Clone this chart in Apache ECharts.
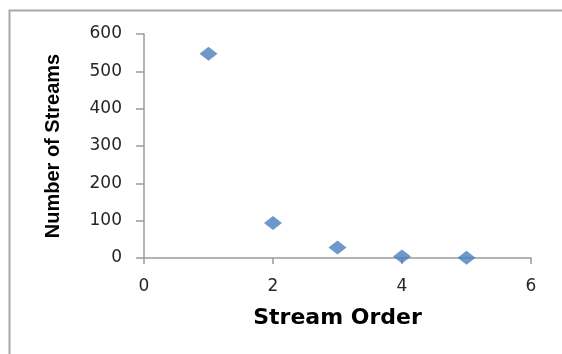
<!DOCTYPE html>
<html>
<head>
<meta charset="utf-8">
<script src="https://cdn.jsdelivr.net/npm/echarts@6/dist/echarts.min.js"></script>
<style>
html,body{margin:0;padding:0;background:#fff;}
#chart{width:562px;height:354px;}
</style>
</head>
<body>
<div id="chart"></div>
<script>
var streamOrder = [1, 2, 3, 4, 5];
var numberOfStreams = [547, 94, 28, 4, 1];
var xTicks = [0, 2, 4, 6];
var yTicks = [0, 100, 200, 300, 400, 500, 600];

var points = streamOrder.map(function (x, i) { return [x, numberOfStreams[i]]; });

var chart = echarts.init(document.getElementById('chart'), null, {renderer: 'canvas'});
var axisGray = '#9a9a9a';
chart.setOption({
  animation: false,
  backgroundColor: '#ffffff',
  graphic: [{
    type: 'rect',
    shape: {x: 9.5, y: 10.5, width: 700, height: 500},
    style: {fill: 'none', stroke: '#a8a8a8', lineWidth: 2},
    silent: true,
    z: -1
  }],
  grid: {left: 144, right: 31, top: 34, bottom: 96},
  xAxis: {
    type: 'value',
    min: xTicks[0],
    max: xTicks[xTicks.length - 1],
    interval: 2,
    name: 'Stream Order',
    nameLocation: 'middle',
    nameGap: 49,
    nameTextStyle: {fontFamily: 'DejaVu Sans', fontWeight: 'bold', fontSize: 22, color: '#000'},
    splitLine: {show: false},
    axisLine: {show: true, onZero: false, lineStyle: {color: axisGray, width: 1.5}},
    axisTick: {show: true, inside: false, length: 6, lineStyle: {color: axisGray, width: 1.5}},
    axisLabel: {margin: 20, fontFamily: 'DejaVu Sans', fontSize: 17, color: '#262626'}
  },
  yAxis: {
    type: 'value',
    min: yTicks[0],
    max: yTicks[yTicks.length - 1],
    interval: 100,
    name: 'Number of Streams',
    nameLocation: 'middle',
    nameGap: 81,
    nameTextStyle: {fontFamily: 'Liberation Sans', fontWeight: 'bold', fontSize: 20, color: '#000'},
    splitLine: {show: false},
    axisLine: {show: true, lineStyle: {color: axisGray, width: 1.5}},
    axisTick: {show: true, inside: false, length: 8, lineStyle: {color: axisGray, width: 1.5}},
    axisLabel: {margin: 22, fontFamily: 'DejaVu Sans', fontSize: 17, color: '#262626'}
  },
  series: [{
    type: 'scatter',
    data: points,
    symbol: 'diamond',
    symbolSize: [18, 14],
    itemStyle: {color: '#4a7ebb'}
  }]
});
</script>
</body>
</html>
